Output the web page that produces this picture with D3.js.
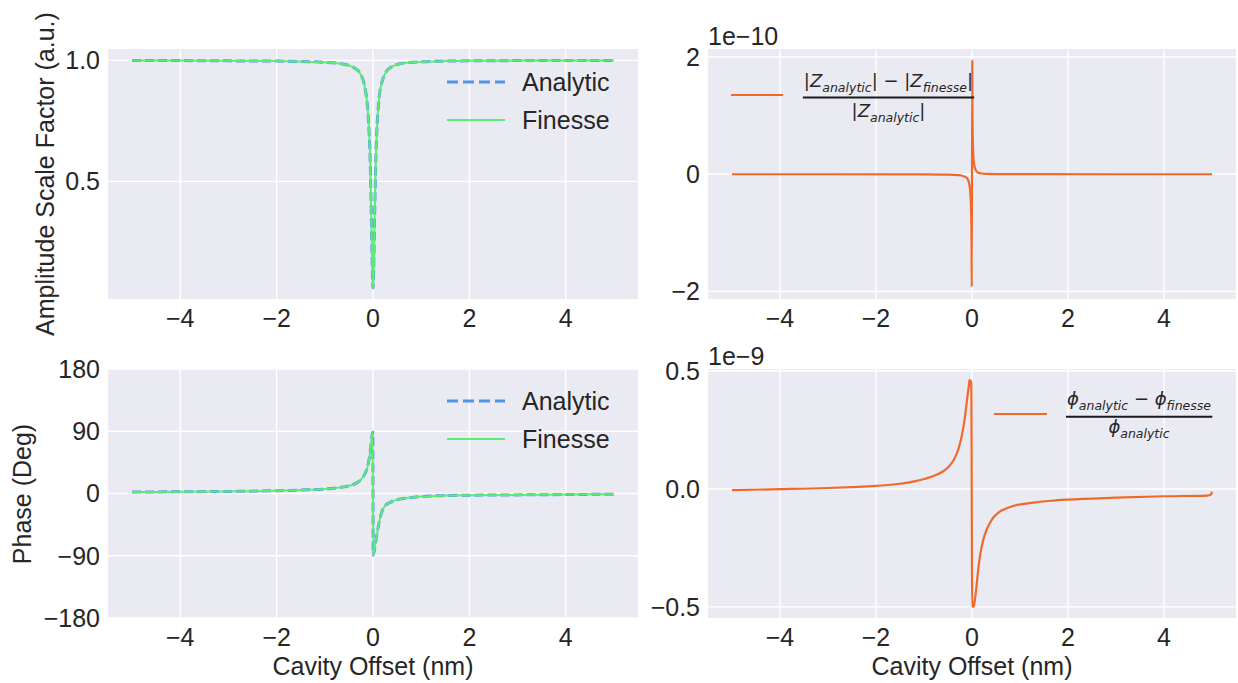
<!DOCTYPE html>
<html><head><meta charset="utf-8">
<script src="https://cdn.jsdelivr.net/npm/d3@7"></script>
<style>
body{margin:0;background:#fff}
text{font-family:"Liberation Sans",Arial,sans-serif;fill:#262626}
.math text, text.math{font-family:"DejaVu Sans",sans-serif}
</style>
</head><body>
<svg id="c" width="1238" height="683"></svg>
<script>
// ---------- data ----------
const xTicks = [-4, -2, 0, 2, 4];
const xTickLabels = ["\u22124", "\u22122", "0", "2", "4"];

const ampTicks = [0.5, 1.0];
const ampTickLabels = ["0.5", "1.0"];
const phaseTicks = [-180, -90, 0, 90, 180];
const phaseTickLabels = ["\u2212180", "\u221290", "0", "90", "180"];
const relAmpTicks = [-2, 0, 2];
const relAmpTickLabels = ["\u22122", "0", "2"];
const relPhTicks = [-0.5, 0, 0.5];
const relPhTickLabels = ["\u22120.5", "0.0", "0.5"];

const ampX = [-5, -4, -3, -2, -1.5, -1, -0.7, -0.5, -0.4, -0.3, -0.25, -0.2, -0.16, -0.13, -0.1, -0.08, -0.06, -0.04, -0.02, -0.01, 0,
  0.01, 0.02, 0.04, 0.06, 0.08, 0.1, 0.13, 0.16, 0.2, 0.25, 0.3, 0.4, 0.5, 0.7, 1, 1.5, 2, 3, 4, 5];
const ampAnalytic = [0.999, 0.999, 0.998, 0.997, 0.995, 0.992, 0.987, 0.979, 0.970, 0.955, 0.940, 0.915, 0.88, 0.84, 0.77, 0.70, 0.60, 0.42, 0.20, 0.10, 0.06,
  0.10, 0.20, 0.42, 0.60, 0.71, 0.78, 0.85, 0.89, 0.92, 0.945, 0.96, 0.975, 0.983, 0.99, 0.994, 0.997, 0.998, 0.999, 0.999, 1.0];
const ampFinesse = [0.999, 0.999, 0.998, 0.997, 0.995, 0.992, 0.987, 0.979, 0.970, 0.955, 0.940, 0.915, 0.88, 0.84, 0.77, 0.70, 0.60, 0.42, 0.20, 0.10, 0.06,
  0.10, 0.20, 0.42, 0.60, 0.71, 0.78, 0.85, 0.89, 0.92, 0.945, 0.96, 0.975, 0.983, 0.99, 0.994, 0.997, 0.998, 0.999, 0.999, 1.0];

const phX = [-5, -4, -3, -2, -1.5, -1, -0.7, -0.5, -0.35, -0.25, -0.18, -0.12, -0.08, -0.05, -0.03, -0.015, -0.005,
  0.005, 0.015, 0.03, 0.05, 0.08, 0.12, 0.18, 0.25, 0.35, 0.5, 0.7, 1, 1.5, 2, 3, 4, 5];
const phaseAnalytic = [2, 2.5, 3, 4, 5, 6.5, 8.5, 11, 15, 20, 27, 37, 50, 65, 78, 86, 89,
  -89, -86, -82, -72, -60, -44, -27, -18, -13, -9, -6.5, -4.5, -3, -2.5, -2, -1.5, -1];
const phaseFinesse = [2, 2.5, 3, 4, 5, 6.5, 8.5, 11, 15, 20, 27, 37, 50, 65, 78, 86, 89,
  -89, -86, -82, -72, -60, -44, -27, -18, -13, -9, -6.5, -4.5, -3, -2.5, -2, -1.5, -1];

// relative amplitude difference (units of 1e-10)
const raX = [-5, -3, -1, -0.5, -0.3, -0.2, -0.1, -0.06, -0.04, -0.02, -0.01, -0.005,
  0.005, 0.01, 0.02, 0.03, 0.05, 0.08, 0.12, 0.2, 0.3, 0.5, 1, 3, 5];
const relAmp = [0, 0, -0.003, -0.008, -0.015, -0.025, -0.07, -0.16, -0.27, -0.6, -1.1, -1.92,
  1.94, 1.0, 0.5, 0.28, 0.14, 0.07, 0.03, 0.012, 0.006, 0.003, 0.001, 0, 0];

// relative phase difference (units of 1e-9)
const rpX = [-5, -4, -3, -2.5, -2, -1.5, -1.2, -1, -0.8, -0.6, -0.46, -0.35, -0.29, -0.23, -0.19, -0.15, -0.12, -0.09, -0.07, -0.05, -0.035, -0.025, -0.015,
  0.005, 0.02, 0.035, 0.06, 0.09, 0.12, 0.17, 0.23, 0.3, 0.37, 0.45, 0.58, 0.75, 0.93, 1.2, 1.65, 2, 3, 4, 4.9, 4.98, 5];
const relPhase = [-0.005, -0.001, 0.004, 0.008, 0.013, 0.022, 0.032, 0.042, 0.055, 0.075, 0.10, 0.135, 0.165, 0.21, 0.25, 0.30, 0.35, 0.40, 0.43, 0.462, 0.445, 0.458, 0.45,
  -0.50, -0.485, -0.50, -0.47, -0.42, -0.36, -0.28, -0.22, -0.175, -0.145, -0.12, -0.096, -0.08, -0.068, -0.06, -0.05, -0.045, -0.037, -0.031, -0.028, -0.024, -0.012];

// ---------- style ----------
const BG = "#eaeaf2", BLUE = "#5094ee", GREEN = "#5cec76", ORANGE = "#ef6a2a";
const FS = 25;

const svg = d3.select("#c");

function panel(p) {
  const g = svg.append("g");
  const x = d3.scaleLinear().domain([-5.5, 5.5]).range([p.x0, p.x1]);
  const y = d3.scaleLinear().domain(p.yDomain).range([p.y1, p.y0]);
  g.append("rect").attr("x", p.x0).attr("y", p.y0).attr("width", p.x1 - p.x0).attr("height", p.y1 - p.y0).attr("fill", BG);
  g.selectAll(".gx").data(xTicks).enter().append("line")
    .attr("x1", d => x(d)).attr("x2", d => x(d)).attr("y1", p.y0).attr("y2", p.y1)
    .attr("stroke", "#fff").attr("stroke-width", 1.4);
  g.selectAll(".gy").data(p.yTicks).enter().append("line")
    .attr("y1", d => y(d)).attr("y2", d => y(d)).attr("x1", p.x0).attr("x2", p.x1)
    .attr("stroke", "#fff").attr("stroke-width", 1.4);
  g.selectAll(".tx").data(xTicks).enter().append("text")
    .attr("x", d => x(d)).attr("y", p.y1 + 28).attr("text-anchor", "middle")
    .attr("font-size", FS).text((d, i) => xTickLabels[i]);
  g.selectAll(".ty").data(p.yTicks).enter().append("text")
    .attr("x", p.x0 - 8).attr("y", d => y(d)).attr("dy", "0.35em").attr("text-anchor", "end")
    .attr("font-size", FS).text((d, i) => p.yTickLabels[i]);
  return {g, x, y};
}

const L = {x0: 108, x1: 638}, R = {x0: 708, x1: 1236};
const T = {y0: 49, y1: 299}, B = {y0: 369, y1: 618};

const pTL = panel({...L, ...T, yDomain: [0.014, 1.047], yTicks: ampTicks, yTickLabels: ampTickLabels});
const pBL = panel({...L, ...B, yDomain: [-180, 180], yTicks: phaseTicks, yTickLabels: phaseTickLabels});
const pTR = panel({...R, ...T, yDomain: [-2.128, 2.136], yTicks: relAmpTicks, yTickLabels: relAmpTickLabels});
const pBR = panel({...R, ...B, yDomain: [-0.547, 0.5085], yTicks: relPhTicks, yTickLabels: relPhTickLabels});

function drawLine(p, xs, ys, color, width, dash) {
  const line = d3.line().curve(d3.curveMonotoneX).x(i => p.x(xs[i])).y(i => p.y(ys[i]));
  const path = p.g.append("path").attr("d", line(d3.range(xs.length)))
    .attr("fill", "none").attr("stroke", color).attr("stroke-width", width)
    .attr("stroke-linejoin", "round");
  if (dash) path.attr("stroke-dasharray", dash);
}

drawLine(pTL, ampX, ampAnalytic, BLUE, 3, "9,4");
drawLine(pTL, ampX, ampFinesse, GREEN, 2);
drawLine(pBL, phX, phaseAnalytic, BLUE, 3, "9,4");
drawLine(pBL, phX, phaseFinesse, GREEN, 2);
drawLine(pTR, raX, relAmp, ORANGE, 2.2);
drawLine(pBR, rpX, relPhase, ORANGE, 2.2);

function legendLR(yA, yF) {
  svg.append("line").attr("x1", 447).attr("x2", 505).attr("y1", yA).attr("y2", yA)
    .attr("stroke", BLUE).attr("stroke-width", 3).attr("stroke-dasharray", "11,5");
  svg.append("text").attr("x", 522).attr("y", yA).attr("dy", "0.35em").attr("font-size", FS).text("Analytic");
  svg.append("line").attr("x1", 447).attr("x2", 505).attr("y1", yF).attr("y2", yF)
    .attr("stroke", GREEN).attr("stroke-width", 2);
  svg.append("text").attr("x", 522).attr("y", yF).attr("dy", "0.35em").attr("font-size", FS).text("Finesse");
}
legendLR(82, 120);
legendLR(401, 439);

function mathText(cx, y, parts) {
  const t = svg.append("text").attr("class", "math").attr("x", cx).attr("y", y)
    .attr("text-anchor", "middle").attr("font-size", 18);
  let cur = 0;
  parts.forEach(pt => {
    const s = t.append("tspan").text(pt.t);
    const want = pt.sub ? 5 : 0;
    if (want !== cur) { s.attr("dy", want - cur); cur = want; }
    if (pt.sub) s.attr("font-size", 12.5);
    if (pt.it) s.attr("font-style", "italic");
  });
  return t;
}
function fraction(cx, yNum, yBar, yDen, num, den, hx0, hx1, hy) {
  svg.append("line").attr("x1", hx0).attr("x2", hx1).attr("y1", hy).attr("y2", hy)
    .attr("stroke", ORANGE).attr("stroke-width", 2.2);
  const n = mathText(cx, yNum, num);
  mathText(cx, yDen, den);
  const bb = n.node().getBBox();
  svg.append("line").attr("x1", bb.x - 1).attr("x2", bb.x + bb.width + 1).attr("y1", yBar).attr("y2", yBar)
    .attr("stroke", "#1a1a1a").attr("stroke-width", 2);
}
fraction(888.5, 87, 97.5, 117,
  [{t: "|"}, {t: "Z", it: 1}, {t: "analytic", it: 1, sub: 1}, {t: "| \u2212 |"}, {t: "Z", it: 1}, {t: "finesse", it: 1, sub: 1}, {t: "|"}],
  [{t: "|"}, {t: "Z", it: 1}, {t: "analytic", it: 1, sub: 1}, {t: "|"}],
  731, 783, 95);
fraction(1139, 405, 416.7, 433,
  [{t: "\u03d5", it: 1}, {t: "analytic", it: 1, sub: 1}, {t: " \u2212 "}, {t: "\u03d5", it: 1}, {t: "finesse", it: 1, sub: 1}],
  [{t: "\u03d5", it: 1}, {t: "analytic", it: 1, sub: 1}],
  994, 1047, 414);

svg.append("text").attr("x", 708).attr("y", 45).attr("font-size", FS).text("1e\u221210");
svg.append("text").attr("x", 708).attr("y", 365).attr("font-size", FS).text("1e\u22129");

svg.append("text").attr("x", 373).attr("y", 675).attr("text-anchor", "middle").attr("font-size", FS).text("Cavity Offset (nm)");
svg.append("text").attr("x", 972).attr("y", 675).attr("text-anchor", "middle").attr("font-size", FS).text("Cavity Offset (nm)");
svg.append("text").attr("transform", "translate(54,174) rotate(-90)").attr("text-anchor", "middle").attr("font-size", FS).text("Amplitude Scale Factor (a.u.)");
svg.append("text").attr("transform", "translate(31,494) rotate(-90)").attr("text-anchor", "middle").attr("font-size", FS).text("Phase (Deg)");
</script>
</body></html>
